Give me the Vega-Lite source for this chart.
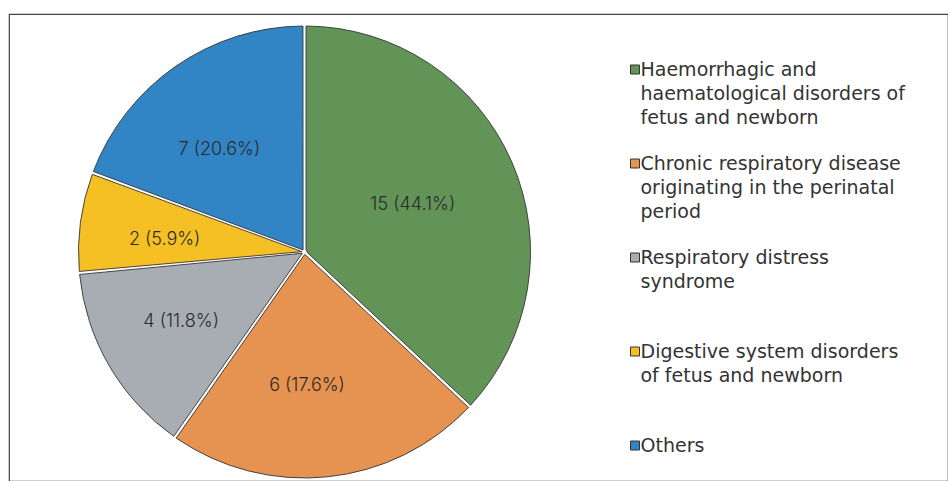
{
  "$schema": "https://vega.github.io/schema/vega-lite/v6.json",
  "width": 939,
  "height": 467,
  "padding": {"left": 9, "top": 14, "right": 0, "bottom": 0},
  "autosize": {"type": "none"},
  "background": "white",
  "view": {"stroke": "#444", "strokeWidth": 1.2, "fill": null},
  "config": {
    "font": "Inter",
    "style": {"guide-label": {"lineHeight": 24}}
  },
  "data": {
    "values": [
      {"category": "Haemorrhagic and haematological disorders of fetus and newborn", "rank": 1, "count": 15, "percent": 44.1, "drawn_share": 36.97},
      {"category": "Chronic respiratory disease originating in the perinatal period", "rank": 2, "count": 6, "percent": 17.6, "drawn_share": 22.75},
      {"category": "Respiratory distress syndrome", "rank": 3, "count": 4, "percent": 11.8, "drawn_share": 13.81},
      {"category": "Digestive system disorders of fetus and newborn", "rank": 4, "count": 2, "percent": 5.9, "drawn_share": 7.17},
      {"category": "Others", "rank": 5, "count": 7, "percent": 20.6, "drawn_share": 19.31}
    ]
  },
  "encoding": {
    "theta": {"field": "drawn_share", "type": "quantitative", "stack": true},
    "order": {"field": "rank", "type": "ordinal"}
  },
  "layer": [
    {
      "mark": {"type": "arc", "x": 295.5, "y": 238, "outerRadius": 226, "innerRadius": 2.5, "padAngle": 0.0135, "stroke": "#333", "strokeWidth": 0.9},
      "encoding": {
        "color": {
          "field": "category",
          "type": "nominal",
          "scale": {
            "domain": [
              "Haemorrhagic and haematological disorders of fetus and newborn",
              "Chronic respiratory disease originating in the perinatal period",
              "Respiratory distress syndrome",
              "Digestive system disorders of fetus and newborn",
              "Others"
            ],
            "range": ["#629458", "#e69250", "#a8adb3", "#f5c024", "#3285c4"]
          },
          "legend": {
            "title": null,
            "orient": "none",
            "legendX": 616.5,
            "legendY": 46,
            "padding": 0,
            "symbolType": "square",
            "symbolSize": 81,
            "symbolStrokeColor": "#333",
            "symbolStrokeWidth": 1,
            "labelFont": "DejaVu Sans",
            "labelFontSize": 19,
            "labelFontWeight": "normal",
            "labelLineHeight": 24,
            "labelColor": "#333333",
            "labelLimit": 400,
            "labelOffset": -4,
            "labelBaseline": "middle",
            "rowPadding": 26,
            "labelExpr": "datum.label == 'Haemorrhagic and haematological disorders of fetus and newborn' ? ['Haemorrhagic and','haematological disorders of','fetus and newborn'] : datum.label == 'Chronic respiratory disease originating in the perinatal period' ? ['Chronic respiratory disease','originating in the perinatal','period'] : datum.label == 'Respiratory distress syndrome' ? ['Respiratory distress','syndrome',''] : datum.label == 'Digestive system disorders of fetus and newborn' ? ['Digestive system disorders','of fetus and newborn',''] : [datum.label,'','']"
          }
        }
      }
    },
    {
      "transform": [
        {"calculate": "datum.count + ' (' + format(datum.percent, '.1f') + '%)'", "as": "label"}
      ],
      "mark": {"type": "text", "x": 295.5, "y": 238, "radius": 130, "dx": -11, "dy": 5, "fontSize": 18, "fontWeight": 300, "font": "Inter", "color": "#2b2b2b", "align": "center", "baseline": "middle"},
      "encoding": {
        "text": {"field": "label"}
      }
    }
  ]
}
